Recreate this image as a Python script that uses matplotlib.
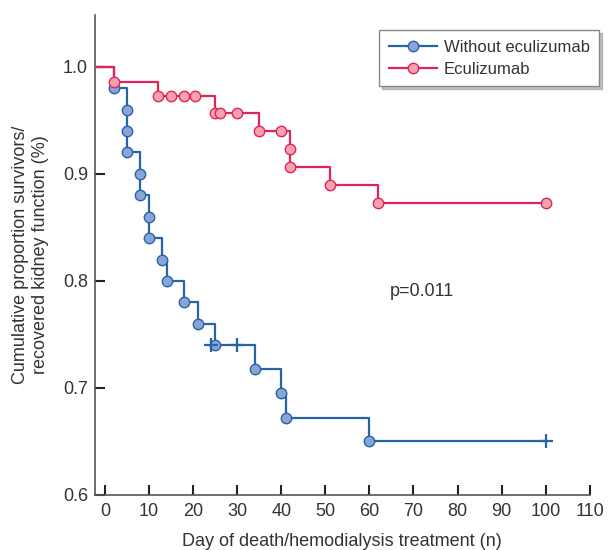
import numpy as np
import matplotlib.pyplot as plt

# Without eculizumab: event points (circles) and censored points (+)
no_ecu_t = [2, 5, 5, 5, 8, 8, 10, 10, 13, 14, 18, 21, 25, 34, 40, 41, 60]
no_ecu_s = [0.98, 0.96, 0.94, 0.92, 0.90, 0.88, 0.86, 0.84, 0.82, 0.80,
            0.78, 0.76, 0.74, 0.718, 0.695, 0.672, 0.650]
no_ecu_cens_t = [24, 30, 100]
no_ecu_cens_s = [0.74, 0.74, 0.650]

# Eculizumab: all marks are circles
ecu_t = [2, 12, 15, 18, 20.5, 25, 26, 30, 35, 40, 42, 42, 51, 62, 100]
ecu_s = [0.986, 0.973, 0.973, 0.973, 0.973, 0.957, 0.957, 0.957,
         0.940, 0.940, 0.923, 0.906, 0.890, 0.873, 0.873]

x_ticks = np.arange(0, 111, 10)
y_ticks = [0.6, 0.7, 0.8, 0.9, 1.0]

blue = "#2763a8"
blue_face = "#8aa4d6"
red = "#e2245c"
red_face = "#f4a3ad"
txt = "#333333"

plt.rcParams["font.family"] = ["Liberation Sans", "DejaVu Sans"]

fig = plt.figure(figsize=(6.08, 5.5), dpi=100)
ax = fig.add_axes([0.156, 0.1, 0.814, 0.873])

x0 = -3
# blue curve
bx = [x0] + no_ecu_t + [no_ecu_cens_t[-1]]
by = [1.0] + no_ecu_s + [no_ecu_s[-1]]
ax.step(bx, by, where="post", color=blue, lw=1.6, zorder=2)
ax.plot(no_ecu_t, no_ecu_s, "o", ms=7.5, mfc=blue_face, mec=blue, mew=1.0, zorder=3)
ax.plot(no_ecu_cens_t, no_ecu_cens_s, "+", ms=10, color=blue, mew=1.6, zorder=3)

# red curve
rx = [x0] + ecu_t
ry = [1.0] + ecu_s
ax.step(rx, ry, where="post", color=red, lw=1.6, zorder=4)
ax.plot(ecu_t, ecu_s, "o", ms=7.5, mfc=red_face, mec=red, mew=1.0, zorder=5)

# legend proxies
ax.plot([], [], "-o", color=blue, lw=1.6, ms=7.5, mfc=blue_face, mec=blue,
        label="Without eculizumab")
ax.plot([], [], "-o", color=red, lw=1.6, ms=7.5, mfc=red_face, mec=red,
        label="Eculizumab")
leg = ax.legend(loc="upper right", bbox_to_anchor=(1.035, 0.985), fontsize=12,
                frameon=True, fancybox=False,
                shadow={"color": "#999999", "alpha": 0.6, "ox": 2, "oy": -2},
                handlelength=2.9, borderpad=0.55, labelspacing=0.45,
                handletextpad=0.4)
leg.get_frame().set_edgecolor("#888888")
leg.get_frame().set_linewidth(1.0)
for t in leg.get_texts():
    t.set_color(txt)

ax.text(64.7, 0.79, "p=0.011", fontsize=13, color=txt, va="center", ha="left")

ax.set_xlim(-2.3, 110)
ax.set_ylim(0.6, 1.0486)
ax.set_xticks(x_ticks)
ax.set_yticks(y_ticks)
ax.set_yticklabels([f"{v:.1f}" for v in y_ticks])
ax.tick_params(direction="in", length=7, width=1.5, colors="#222222",
               labelcolor=txt, labelsize=13)
ax.tick_params(axis="x", pad=6)
ax.tick_params(axis="y", pad=5)
for s in ["top", "right"]:
    ax.spines[s].set_visible(False)
for s in ["left", "bottom"]:
    ax.spines[s].set_color("#555555")
    ax.spines[s].set_linewidth(1.2)

ax.set_xlabel("Day of death/hemodialysis treatment (n)", fontsize=13, color=txt,
              labelpad=9)
ax.set_ylabel("Cumulative proportion survivors/\nrecovered kidney function (%)",
              fontsize=13, color=txt, labelpad=10)

fig.savefig("out.png", dpi=100)
